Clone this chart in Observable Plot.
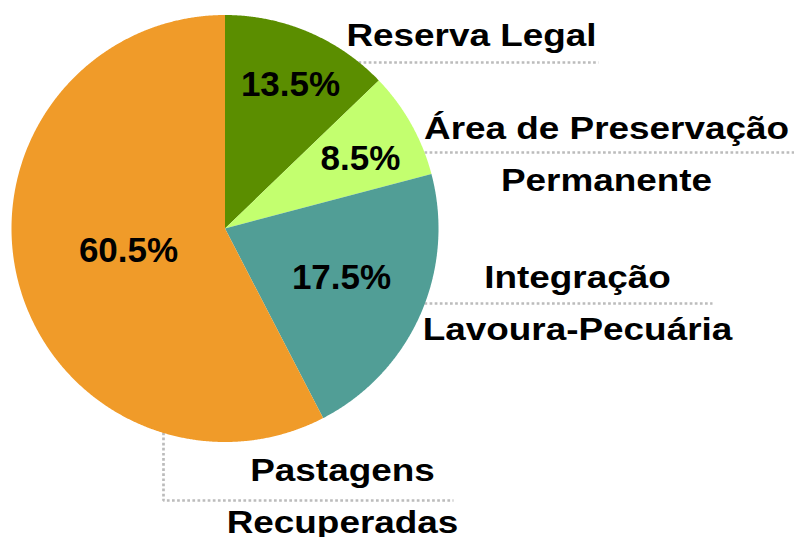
<!DOCTYPE html>
<html>
<head>
<meta charset="utf-8">
<script src="https://cdn.jsdelivr.net/npm/d3@7"></script>
<script src="https://cdn.jsdelivr.net/npm/@observablehq/plot@0.6"></script>
<style>
  html, body { margin: 0; padding: 0; background: #fff; }
  #chart svg { display: block; }
</style>
</head>
<body>
<div id="chart"></div>
<script>
// ---- data ----
const categories = ["Reserva Legal", "Área de Preservação\nPermanente", "Integração\nLavoura-Pecuária", "Pastagens\nRecuperadas"];
// slice sizes as drawn in the picture (share of the circle, %)
const sliceValues = [12.8, 8.1, 21.5, 57.6];
// percentage labels printed on the slices
const pctLabels = ["13.5%", "8.5%", "17.5%", "60.5%"];
const colors = ["#5b8e00", "#c3ff6f", "#519e96", "#f09b29"];

// ---- layout ----
const W = 794, H = 537;
const cx = 224.5, cy = 228, R = 213.5;
const pctPos = [[290, 84], [360, 158], [341, 277], [128, 250]];
const catPos = [[471, 45], [606, 190], [577, 339], [342, 532]];
const leaders = [
  [[358, 62], [598, 62]],
  [[424, 152], [794, 152]],
  [[424, 303], [712, 303]],
  [[163, 432], [163, 500], [453, 500]]
];

const table = categories.map((c, i) => ({category: c, value: sliceValues[i], label: pctLabels[i], color: colors[i]}));
const arcs = d3.pie().sort(null).value(d => d.value).startAngle(0).endAngle(2 * Math.PI)(table);

const slicePts = [];
arcs.forEach((a, i) => {
  slicePts.push({x: cx, y: cy, k: i, color: a.data.color});
  const n = Math.max(2, Math.ceil((a.endAngle - a.startAngle) / 0.005));
  for (let j = 0; j <= n; j++) {
    const t = a.startAngle + (a.endAngle - a.startAngle) * j / n;
    slicePts.push({x: cx + R * Math.sin(t), y: cy - R * Math.cos(t), k: i, color: a.data.color});
  }
});

const pctText = table.map((d, i) => ({x: pctPos[i][0], y: pctPos[i][1], text: d.label}));
const catText = table.map((d, i) => ({x: catPos[i][0], y: catPos[i][1], text: d.category}));
const leaderPts = leaders.flatMap((pts, i) => pts.map(p => ({x: p[0], y: p[1], k: i})));

const chart = Plot.plot({
  width: W, height: H,
  margin: 0,
  x: {domain: [0, W], range: [0, W], axis: null},
  y: {domain: [0, H], range: [0, H], axis: null},
  style: {background: "#fff"},
  marks: [
    Plot.line(leaderPts, {x: "x", y: "y", z: "k", stroke: "#bcbcbc", strokeWidth: 2.7, strokeDasharray: "2.7,2.4", strokeLinecap: "butt", strokeLinejoin: "miter", curve: "linear"}),
    Plot.line(slicePts, {x: "x", y: "y", z: "k", fill: d => d.color, stroke: "none", curve: "linear-closed"}),
    Plot.text(pctText, {x: "x", y: "y", text: "text", fontSize: 35, fontWeight: "bold", fontFamily: "Liberation Sans", fill: "#000", textAnchor: "middle"}),
    Plot.text(catText, {x: "x", y: "y", text: "text", fontSize: 31, fontWeight: "bold", fontFamily: "Liberation Sans", fill: "#000", textAnchor: "middle", lineAnchor: "bottom", lineHeight: 1.66, className: "catlab"})
  ]
});
document.getElementById("chart").appendChild(chart);
// widen category labels horizontally to match reference typography
chart.querySelectorAll(".catlab text").forEach(t => {
  const tr = t.getAttribute("transform") || "";
  t.setAttribute("transform", tr + " scale(1.19,1)");
});
</script>
</body>
</html>
